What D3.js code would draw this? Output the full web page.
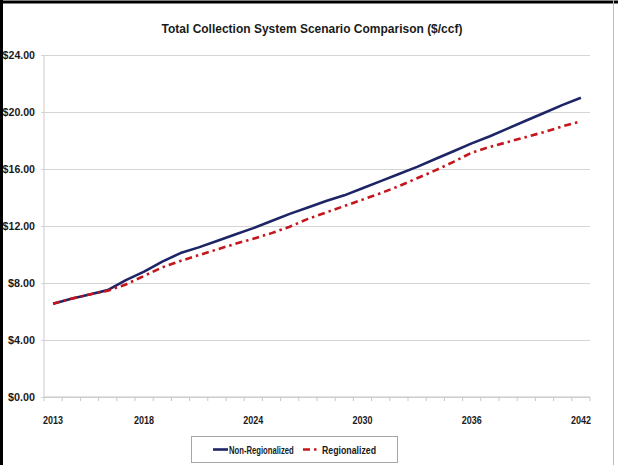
<!DOCTYPE html>
<html>
<head>
<meta charset="utf-8">
<script src="https://cdn.jsdelivr.net/npm/d3@7/dist/d3.min.js"></script>
<style>
  html, body { margin: 0; padding: 0; background: #fff; }
  svg { display: block; }
  text { font-family: "Liberation Sans", Arial, sans-serif; font-weight: bold; fill: #1a1a1a; }
</style>
</head>
<body>
<script>
// Rate projections, $/ccf, one value per year 2013–2042
const years = d3.range(2013, 2043);
const nonRegionalized = [
  6.55, 6.9, 7.2, 7.5, 8.2, 8.8, 9.5, 10.1, 10.5, 10.95,
  11.4, 11.85, 12.35, 12.85, 13.3, 13.75, 14.15, 14.65, 15.15, 15.65,
  16.15, 16.7, 17.25, 17.8, 18.3, 18.85, 19.4, 19.95, 20.5, 21.0
];
const regionalized = [
  6.55, 6.9, 7.2, 7.45, 7.9, 8.5, 9.1, 9.55, 9.95, 10.35,
  10.75, 11.1, 11.5, 11.95, 12.5, 12.95, 13.4, 13.85, 14.3, 14.8,
  15.35, 15.9, 16.5, 17.15, 17.55, 17.9, 18.25, 18.6, 19.0, 19.35
];
const xTickLabels = [2013, 2018, 2024, 2030, 2036, 2042];
const yTicks = [0, 4, 8, 12, 16, 20, 24];
const seriesNames = ["Non-Regionalized", "Regionalized"];

const W = 618, H = 465;
const plot = { left: 44, right: 590, top: 55, bottom: 397 };

// condensed look: squeeze glyphs to a target width
function squeeze(sel, perChar) {
  sel.each(function () {
    const t = d3.select(this);
    t.attr("textLength", t.text().length * perChar).attr("lengthAdjust", "spacingAndGlyphs");
  });
}

const svg = d3.select("body").append("svg").attr("width", W).attr("height", H);
svg.append("rect").attr("width", W).attr("height", H).attr("fill", "#fff");

const x = d3.scaleBand().domain(years).range([plot.left, plot.right]).padding(0);
const y = d3.scaleLinear().domain([0, 24]).range([plot.bottom, plot.top]);
const cx = yr => x(yr) + x.bandwidth() / 2;

// horizontal gridlines + y labels
const yAxis = d3.axisLeft(y).tickValues(yTicks)
  .tickSize(-(plot.right - plot.left) - 3)
  .tickFormat(d => "$" + d3.format(".2f")(d));
const gy = svg.append("g").attr("transform", `translate(${plot.left - 3},0)`).call(yAxis);
gy.select(".domain").remove();
gy.selectAll(".tick line").attr("stroke", "#d4d4d4").attr("stroke-width", 1.2);
gy.selectAll(".tick text").attr("x", -6).attr("font-size", 11).attr("fill", "#1a1a1a")
  .style("font-family", "'Liberation Sans', Arial, sans-serif").style("font-weight", "bold")
  .call(squeeze, 5.4);

// left axis line
svg.append("line").attr("x1", plot.left).attr("x2", plot.left)
  .attr("y1", plot.top).attr("y2", plot.bottom).attr("stroke", "#d4d4d4").attr("stroke-width", 1.2);

// category axis: ticks at category boundaries
const gx = svg.append("g").attr("transform", `translate(0,${plot.bottom})`);
gx.append("line").attr("x1", plot.left).attr("x2", plot.right).attr("stroke", "#c8c8c8").attr("stroke-width", 1.2);
const bounds = years.map(yr => x(yr)).concat([plot.right]);
gx.selectAll("line.tk").data(bounds).join("line").attr("class", "tk")
  .attr("x1", d => d).attr("x2", d => d).attr("y1", 0).attr("y2", 4)
  .attr("stroke", "#c8c8c8").attr("stroke-width", 1);
gx.selectAll("text").data(xTickLabels).join("text")
  .attr("x", d => cx(d)).attr("y", 27).attr("text-anchor", "middle")
  .attr("font-size", 11).text(d => d).call(squeeze, 5);

// series lines
const line = d3.line().x((d, i) => cx(years[i])).y(d => y(d)).curve(d3.curveLinear);
svg.append("path").datum(nonRegionalized).attr("d", line)
  .attr("fill", "none").attr("stroke", "#1d2566").attr("stroke-width", 2.6)
  .attr("stroke-linejoin", "round");
svg.append("path").datum(regionalized).attr("d", line)
  .attr("fill", "none").attr("stroke", "#c4161c").attr("stroke-width", 2.6)
  .attr("stroke-dasharray", "7,4,2.5,4");

// title
svg.append("text").attr("x", 312).attr("y", 33).attr("text-anchor", "middle")
  .attr("font-size", 13).text("Total Collection System Scenario Comparison ($/ccf)")
  .call(squeeze, 5.9);

// legend
const lg = svg.append("g");
lg.append("rect").attr("x", 191.5).attr("y", 436.5).attr("width", 206).attr("height", 26)
  .attr("fill", "#fff").attr("stroke", "#a6a6a6").attr("stroke-width", 1);
lg.append("line").attr("x1", 213).attr("x2", 228).attr("y1", 449.5).attr("y2", 449.5)
  .attr("stroke", "#1d2566").attr("stroke-width", 2.6);
lg.append("text").attr("x", 229).attr("y", 453.5).attr("font-size", 10.5).text(seriesNames[0])
  .call(squeeze, 4.05);
lg.append("line").attr("x1", 303).attr("x2", 320).attr("y1", 449.5).attr("y2", 449.5)
  .attr("stroke", "#c4161c").attr("stroke-width", 2.6).attr("stroke-dasharray", "7,4,2.5,4");
lg.append("text").attr("x", 322).attr("y", 453.5).attr("font-size", 10.5).text(seriesNames[1])
  .call(squeeze, 4.5);

// chart frame
svg.append("line").attr("x1", 1.5).attr("x2", 1.5).attr("y1", 0).attr("y2", H).attr("stroke", "#000").attr("stroke-width", 3);
svg.append("line").attr("x1", 0).attr("x2", W).attr("y1", 2).attr("y2", 2).attr("stroke", "#000").attr("stroke-width", 3);
svg.append("line").attr("x1", 613.5).attr("x2", 613.5).attr("y1", 0).attr("y2", H).attr("stroke", "#bdbdbd").attr("stroke-width", 1);
</script>
</body>
</html>
